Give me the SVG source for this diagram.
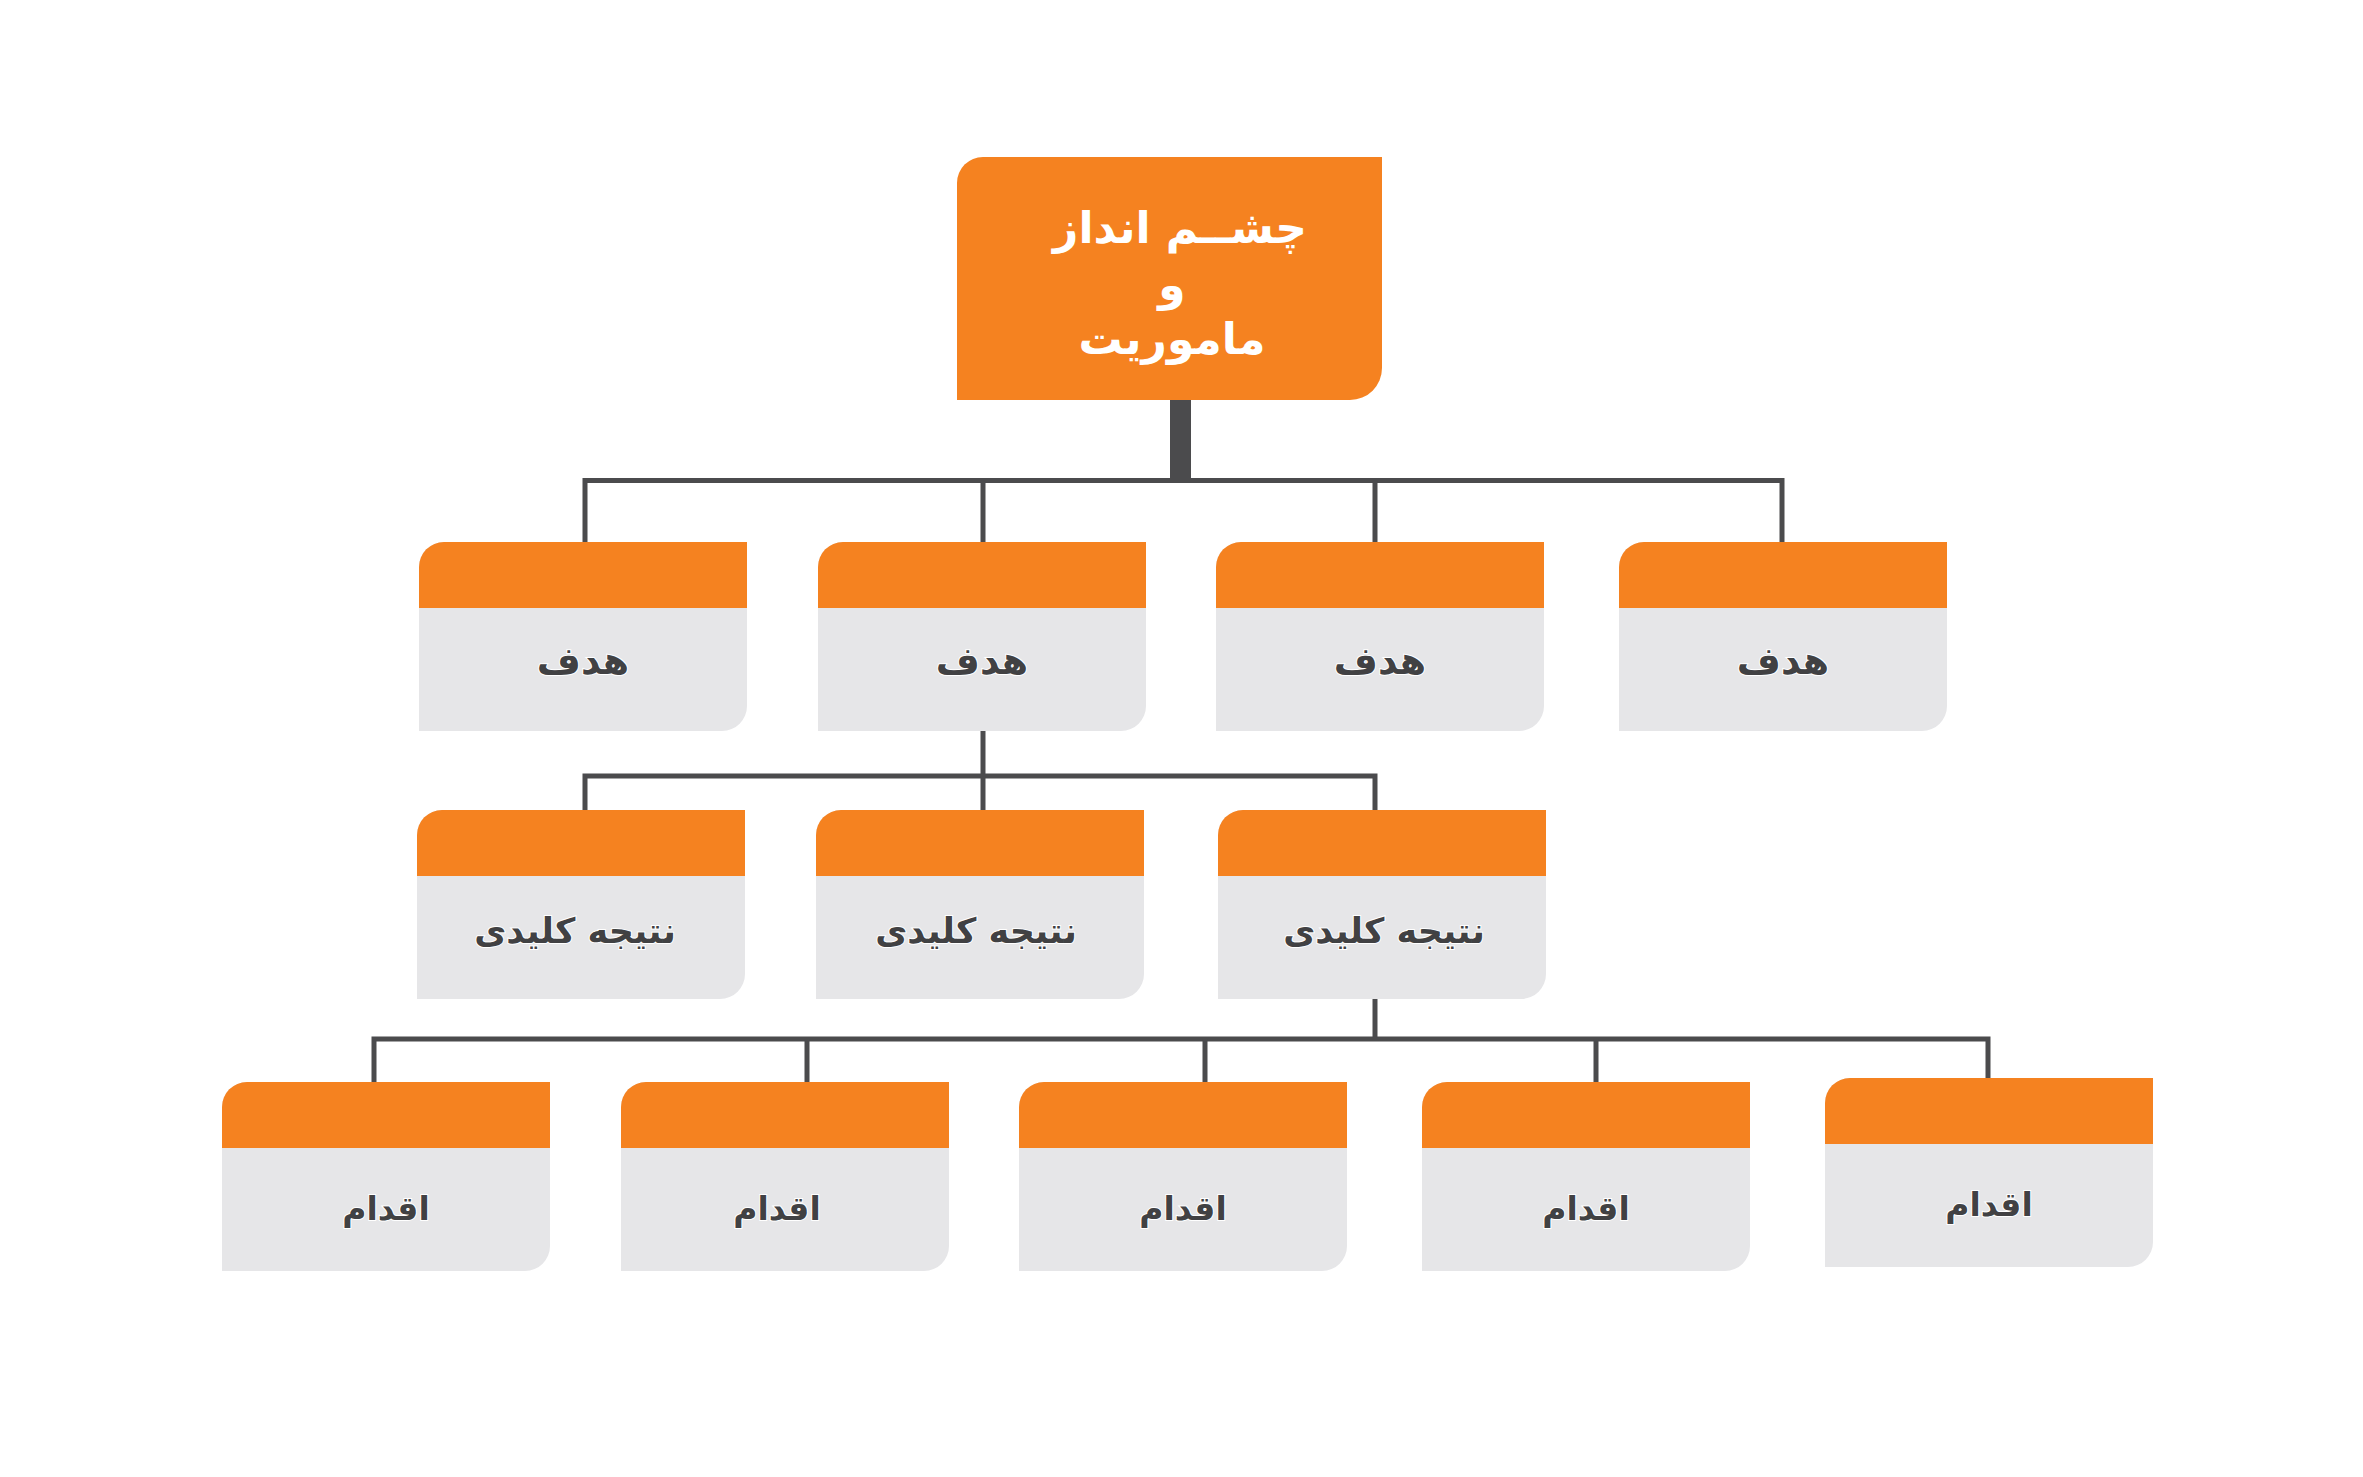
<svg xmlns="http://www.w3.org/2000/svg" width="2363" height="1477" viewBox="0 0 2363 1477">
<style>
.card{fill:#E6E6E8}
.top{fill:#F58220}
.lbl{font-family:"DejaVu Sans",sans-serif;font-weight:bold;fill:#414143;text-anchor:middle;stroke:#ffffff;stroke-width:2;paint-order:stroke}
.g{font-size:38px}
.k{font-size:35px}
.a{font-size:33px}
.head{font-family:"DejaVu Sans",sans-serif;font-weight:bold;font-size:44px;fill:#ffffff;text-anchor:middle}
.ln{fill:none;stroke:#4B4B4D;stroke-width:5;stroke-linejoin:miter;stroke-linecap:butt}
</style>
<defs>
<path id="cardBody" d="M25,0 H328 V164 A25,25 0 0 1 303,189 H0 V25 A25,25 0 0 1 25,0 Z"/>
<path id="cardTop" d="M25,0 H328 V66 H0 V25 A25,25 0 0 1 25,0 Z"/>
</defs>
<rect width="2363" height="1477" fill="#ffffff"/>
<g id="connectors">
<rect x="1170" y="399" width="21" height="84" fill="#4B4B4D"/>
<path class="ln" d="M585,543 V480.5 H1782 V543"/>
<path class="ln" d="M983,480.5 V543 M1375,480.5 V543"/>
<path class="ln" d="M983,731 V776"/>
<path class="ln" d="M585,811 V776 H1375 V811"/>
<path class="ln" d="M983,776 V811"/>
<path class="ln" d="M1375,997 V1039"/>
<path class="ln" d="M374,1083 V1039 H1988 V1079"/>
<path class="ln" d="M807,1039 V1083 M1205,1039 V1083 M1596,1039 V1083"/>
</g>
<g id="root">
<path d="M983,157 H1382 V368 A32,32 0 0 1 1350,400 H957 V183 A26,26 0 0 1 983,157 Z" fill="#F58220"/>
<text class="head" x="1180" y="243">چشــم انداز</text>
<text class="head" x="1172" y="300">و</text>
<text class="head" x="1172" y="354">ماموریت</text>
</g>
<g id="goal1" transform="translate(419,542)"><use href="#cardBody" class="card"/><use href="#cardTop" class="top"/><text class="lbl g" x="164" y="132">هدف</text></g>
<g id="goal2" transform="translate(818,542)"><use href="#cardBody" class="card"/><use href="#cardTop" class="top"/><text class="lbl g" x="164" y="132">هدف</text></g>
<g id="goal3" transform="translate(1216,542)"><use href="#cardBody" class="card"/><use href="#cardTop" class="top"/><text class="lbl g" x="164" y="132">هدف</text></g>
<g id="goal4" transform="translate(1619,542)"><use href="#cardBody" class="card"/><use href="#cardTop" class="top"/><text class="lbl g" x="164" y="132">هدف</text></g>
<g id="kr1" transform="translate(417,810)"><use href="#cardBody" class="card"/><use href="#cardTop" class="top"/><text class="lbl k" x="158" y="133">نتیجه کلیدی</text></g>
<g id="kr2" transform="translate(816,810)"><use href="#cardBody" class="card"/><use href="#cardTop" class="top"/><text class="lbl k" x="160" y="133">نتیجه کلیدی</text></g>
<g id="kr3" transform="translate(1218,810)"><use href="#cardBody" class="card"/><use href="#cardTop" class="top"/><text class="lbl k" x="166" y="133">نتیجه کلیدی</text></g>
<g id="action1" transform="translate(222,1082)"><use href="#cardBody" class="card"/><use href="#cardTop" class="top"/><text class="lbl a" x="164" y="138">اقدام</text></g>
<g id="action2" transform="translate(621,1082)"><use href="#cardBody" class="card"/><use href="#cardTop" class="top"/><text class="lbl a" x="156" y="138">اقدام</text></g>
<g id="action3" transform="translate(1019,1082)"><use href="#cardBody" class="card"/><use href="#cardTop" class="top"/><text class="lbl a" x="164" y="138">اقدام</text></g>
<g id="action4" transform="translate(1422,1082)"><use href="#cardBody" class="card"/><use href="#cardTop" class="top"/><text class="lbl a" x="164" y="138">اقدام</text></g>
<g id="action5" transform="translate(1825,1078)"><use href="#cardBody" class="card"/><use href="#cardTop" class="top"/><text class="lbl a" x="164" y="138">اقدام</text></g>
</svg>
